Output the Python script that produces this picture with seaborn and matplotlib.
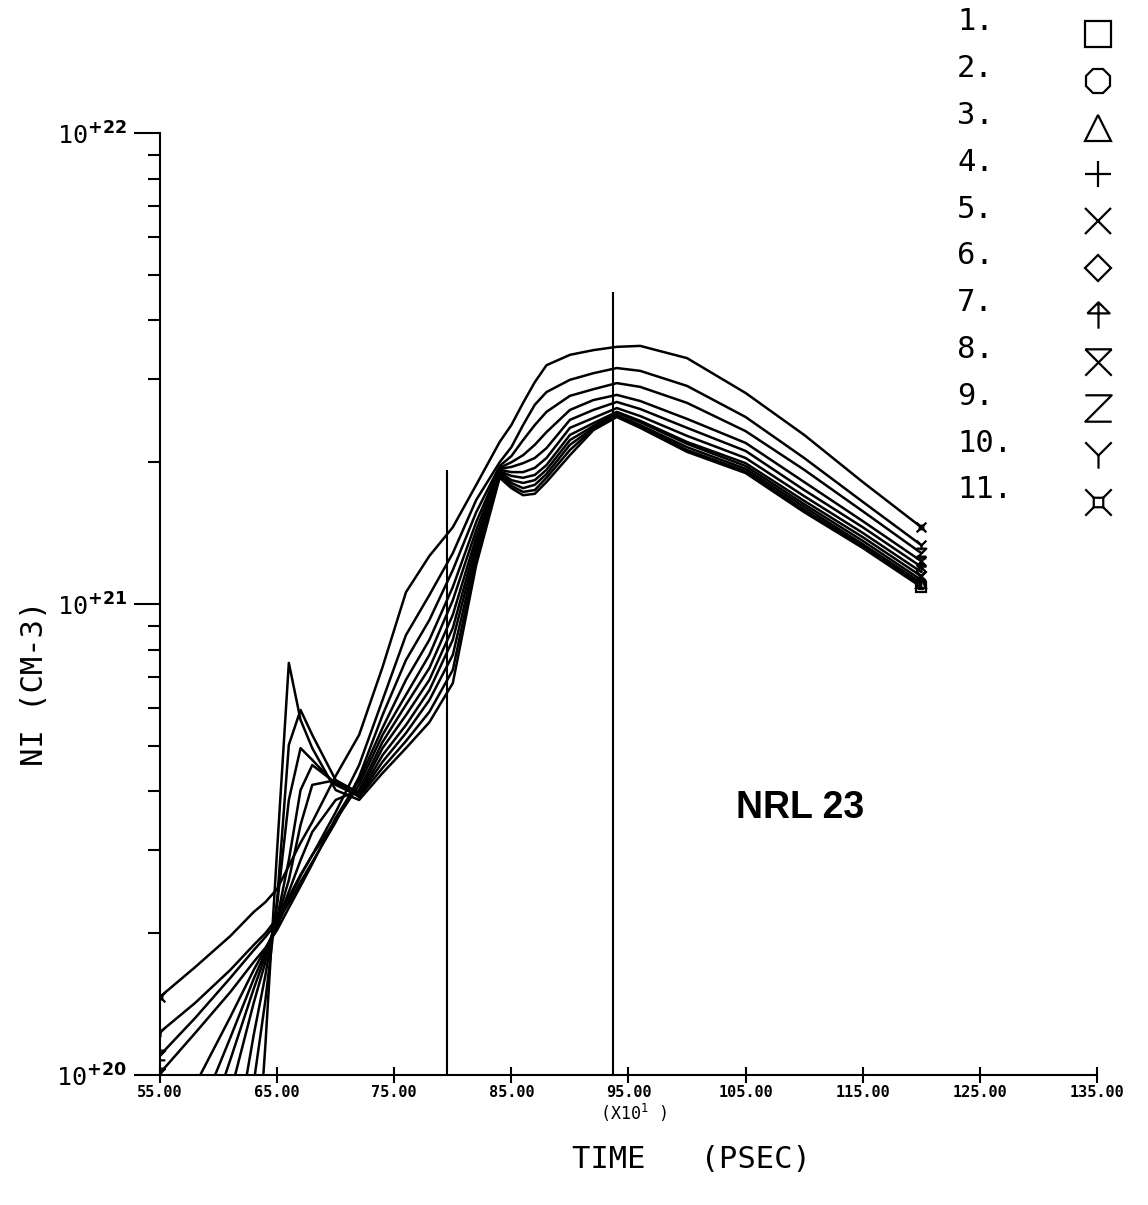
import numpy as np
import pandas as pd
import matplotlib
matplotlib.use("Agg")
import matplotlib.pyplot as plt
import seaborn as sns
from matplotlib.ticker import LogLocator, FuncFormatter, NullFormatter, FixedLocator
from matplotlib.path import Path

# ---------------- data (time in units of 10 psec, log10 of NI in cm^-3) ----------------
time_x10 = [55, 58, 61, 63, 64, 65, 66, 67, 68, 70, 72, 74, 76, 78, 80, 82, 84, 85, 86, 87,
            88, 90, 92, 94, 96, 100, 105, 110, 115, 120]

log_ni_zone1 = [18.036, 18.461, 19.098, 19.703, 20.064, 20.478, 20.875, 20.754, 20.694, 20.605,
                20.584, 20.641, 20.694, 20.749, 20.832, 21.083, 21.268, 21.246, 21.231, 21.234,
                21.259, 21.316, 21.369, 21.397, 21.374, 21.323, 21.278, 21.195, 21.119, 21.036]
log_ni_zone2 = [18.355, 18.949, 19.565, 19.983, 20.159, 20.372, 20.701, 20.775, 20.722, 20.626,
                20.590, 20.652, 20.709, 20.771, 20.860, 21.096, 21.272, 21.251, 21.238, 21.242,
                21.268, 21.327, 21.372, 21.399, 21.378, 21.327, 21.282, 21.200, 21.123, 21.040]
log_ni_zone3 = [19.019, 19.435, 19.798, 20.085, 20.212, 20.361, 20.584, 20.694, 20.669, 20.616,
                20.592, 20.665, 20.726, 20.796, 20.892, 21.106, 21.276, 21.257, 21.246, 21.253,
                21.276, 21.338, 21.374, 21.401, 21.380, 21.333, 21.287, 21.206, 21.127, 21.045]
log_ni_zone4 = [19.386, 19.667, 19.960, 20.153, 20.240, 20.333, 20.456, 20.605, 20.658, 20.620,
                20.594, 20.679, 20.743, 20.817, 20.924, 21.117, 21.280, 21.263, 21.257, 21.263,
                21.285, 21.348, 21.378, 21.406, 21.386, 21.340, 21.293, 21.212, 21.134, 21.051]
log_ni_zone5 = [19.588, 19.811, 20.032, 20.183, 20.253, 20.329, 20.414, 20.531, 20.616, 20.626,
                20.599, 20.694, 20.764, 20.839, 20.949, 21.130, 21.282, 21.272, 21.268, 21.274,
                21.295, 21.359, 21.384, 21.408, 21.389, 21.344, 21.299, 21.219, 21.142, 21.059]
log_ni_zone6 = [19.713, 19.896, 20.079, 20.204, 20.261, 20.325, 20.389, 20.456, 20.516, 20.584,
                20.605, 20.707, 20.786, 20.864, 20.977, 21.142, 21.285, 21.280, 21.280, 21.289,
                21.310, 21.374, 21.395, 21.416, 21.399, 21.357, 21.310, 21.229, 21.151, 21.068]
log_ni_zone7 = [19.834, 19.979, 20.123, 20.223, 20.268, 20.316, 20.372, 20.423, 20.467, 20.541,
                20.616, 20.722, 20.807, 20.892, 21.008, 21.157, 21.287, 21.291, 21.299, 21.310,
                21.331, 21.391, 21.412, 21.429, 21.414, 21.374, 21.325, 21.242, 21.163, 21.079]
log_ni_zone8 = [20.004, 20.089, 20.176, 20.240, 20.270, 20.308, 20.355, 20.401, 20.448, 20.546,
                20.626, 20.737, 20.839, 20.924, 21.036, 21.174, 21.289, 21.301, 21.316, 21.338,
                21.365, 21.412, 21.433, 21.444, 21.431, 21.393, 21.342, 21.259, 21.176, 21.091]
log_ni_zone9 = [20.042, 20.121, 20.206, 20.265, 20.293, 20.325, 20.365, 20.410, 20.452, 20.537,
                20.633, 20.764, 20.881, 20.966, 21.072, 21.195, 21.293, 21.314, 21.348, 21.380,
                21.408, 21.442, 21.456, 21.469, 21.461, 21.427, 21.367, 21.285, 21.197, 21.108]
log_ni_zone10 = [20.091, 20.153, 20.223, 20.276, 20.301, 20.333, 20.378, 20.425, 20.467, 20.558,
                 20.658, 20.796, 20.934, 21.019, 21.108, 21.221, 21.301, 21.333, 21.380, 21.423,
                 21.450, 21.476, 21.490, 21.501, 21.495, 21.463, 21.397, 21.310, 21.217, 21.125]
log_ni_zone11 = [20.166, 20.229, 20.295, 20.346, 20.367, 20.395, 20.444, 20.493, 20.537, 20.635,
                 20.722, 20.866, 21.025, 21.102, 21.163, 21.253, 21.344, 21.380, 21.427, 21.471,
                 21.507, 21.529, 21.539, 21.546, 21.548, 21.522, 21.448, 21.359, 21.259, 21.163]

zone_labels = ["1.", "2.", "3.", "4.", "5.", "6.", "7.", "8.", "9.", "10.", "11."]

# vertical reference lines (time, top in log10 NI)
ref_times = [79.5, 93.7]
ref_tops_log = [21.285, 21.662]

x_ticks = [55, 65, 75, 85, 95, 105, 115, 125, 135]
x_tick_labels = ["55.00", "65.00", "75.00", "85.00", "95.00", "105.00", "115.00", "125.00", "135.00"]
y_ticks = [1e20, 1e21, 1e22]
y_exponents = ["+20", "+21", "+22"]

# ---------------- markers ----------------
def seg_path(segments):
    verts, codes = [], []
    for seg in segments:
        for i, p in enumerate(seg):
            verts.append(p)
            codes.append(Path.MOVETO if i == 0 else Path.LINETO)
    return Path(verts, codes)

arrow_m = seg_path([[(-0.42, 0.08), (0, 0.5), (0.42, 0.08), (-0.42, 0.08)], [(0, 0.5), (0, -0.5)]])
hour_m = seg_path([[(-0.5, 0.5), (0.5, 0.5)], [(-0.5, 0.5), (0.5, -0.5)], [(0.5, 0.5), (-0.5, -0.5)]])
z_m = seg_path([[(-0.5, 0.5), (0.5, 0.5), (-0.5, -0.5), (0.5, -0.5)]])
y_m = seg_path([[(-0.5, 0.5), (0, 0), (0.5, 0.5)], [(0, 0), (0, -0.5)]])
cur_m = seg_path([[(-0.18, -0.18), (0.18, -0.18), (0.18, 0.18), (-0.18, 0.18), (-0.18, -0.18)],
                  [(-0.5, -0.5), (-0.18, -0.18)], [(0.5, -0.5), (0.18, -0.18)],
                  [(0.5, 0.5), (0.18, 0.18)], [(-0.5, 0.5), (-0.18, 0.18)]])
zone_markers = ["s", "8", "^", "+", "x", "D", arrow_m, hour_m, z_m, y_m, cur_m]
marker_scale = [1, 1, 1, 1, 1, 0.72, 1, 1, 1, 1, 1]

zones = [log_ni_zone1, log_ni_zone2, log_ni_zone3, log_ni_zone4, log_ni_zone5, log_ni_zone6,
         log_ni_zone7, log_ni_zone8, log_ni_zone9, log_ni_zone10, log_ni_zone11]

rows = []
for zi, vals in enumerate(zones):
    for t, v in zip(time_x10, vals):
        rows.append({"time": t, "ni": 10.0 ** v, "zone": zi + 1})
df = pd.DataFrame(rows)

# ---------------- style ----------------
sns.set_theme(style="white")
plt.rcParams["font.family"] = ["DejaVu Sans Mono", "DejaVu Sans"]
plt.rcParams["mathtext.fontset"] = "dejavusans"
plt.rcParams["text.color"] = "black"
plt.rcParams["axes.labelcolor"] = "black"
plt.rcParams["xtick.color"] = "black"
plt.rcParams["ytick.color"] = "black"

fig = plt.figure(figsize=(11.48, 12.05), dpi=100)
ax = fig.add_axes([0.13937, 0.10788, 0.81620, 0.78174])
ax.set_yscale("log")

n = len(time_x10)
for zi in range(11):
    sub = df[df["zone"] == zi + 1]
    sns.lineplot(data=sub, x="time", y="ni", ax=ax, color="black", lw=1.8,
                 estimator=None, legend=False, sort=False,
                 marker=zone_markers[zi], markevery=[0, n - 1], markersize=7 * marker_scale[zi],
                 markerfacecolor="none", markeredgecolor="black", markeredgewidth=1.6)

ax.vlines(ref_times, [1e20, 1e20], [10 ** v for v in ref_tops_log], color="black", lw=1.5)

ax.set_xlim(55, 135)
ax.set_ylim(1e20, 1e22)
ax.set_xlabel("")
ax.set_ylabel("")
ax.grid(False)
ax.set_facecolor("white")

ax.set_xticks(x_ticks)
ax.set_xticklabels(x_tick_labels, fontweight="bold", fontsize=11)
ax.yaxis.set_major_locator(FixedLocator(y_ticks))
ax.yaxis.set_major_formatter(FuncFormatter(
    lambda v, p: "10$^{\\mathbf{" + y_exponents[int(round(np.log10(v))) - 20] + "}}$"))
ax.yaxis.set_minor_locator(LogLocator(base=10, subs=np.arange(2, 10)))
ax.yaxis.set_minor_formatter(NullFormatter())

ax.tick_params(axis="y", which="major", direction="out", length=19, width=1.5,
               left=True, labelsize=18, pad=5, color="black", labelcolor="black")
ax.tick_params(axis="y", which="minor", direction="out", length=8.5, width=1.5,
               left=True, color="black")
ax.tick_params(axis="x", which="major", direction="inout", length=11, width=1.5,
               bottom=True, pad=2, color="black", labelcolor="black")

for s in ["top", "right"]:
    ax.spines[s].set_visible(False)
for s in ["left", "bottom"]:
    ax.spines[s].set_color("black")
    ax.spines[s].set_linewidth(1.5)

ax.text(0.683, 0.2834, "NRL 23", transform=ax.transAxes, ha="center", va="center",
        fontsize=27, fontweight="bold", family="Liberation Sans", color="black")

fig.text(633 / 1148, 1 - 1113 / 1205, "(X10$^1$ )", ha="center", va="center", fontsize=12,
         color="black")
fig.text(691 / 1148, 1 - 1160 / 1205, "TIME   (PSEC)", ha="center", va="center", fontsize=22,
         color="black")
fig.text(35 / 1148, 1 - 683 / 1205, "NI (CM-3)", ha="center", va="center", fontsize=22,
         rotation=90, color="black")

# ---------------- legend (zone list at top right) ----------------
lax = fig.add_axes([0, 0, 1, 1], facecolor="none")
lax.set_axis_off()
lax.set_xlim(0, 1)
lax.set_ylim(0, 1)
for k in range(11):
    ty = 1 - (22 + 46.8 * k) / 1205
    my = 1 - (34 + 46.8 * k) / 1205
    lax.text(957 / 1148, ty, zone_labels[k], ha="left", va="center", fontsize=22, color="black")
    lax.plot([1098 / 1148], [my], linestyle="none", marker=zone_markers[k],
             markersize=19 * marker_scale[k], markerfacecolor="none",
             markeredgecolor="black", markeredgewidth=1.6)

fig.savefig("out.png", dpi=100, facecolor="white")
